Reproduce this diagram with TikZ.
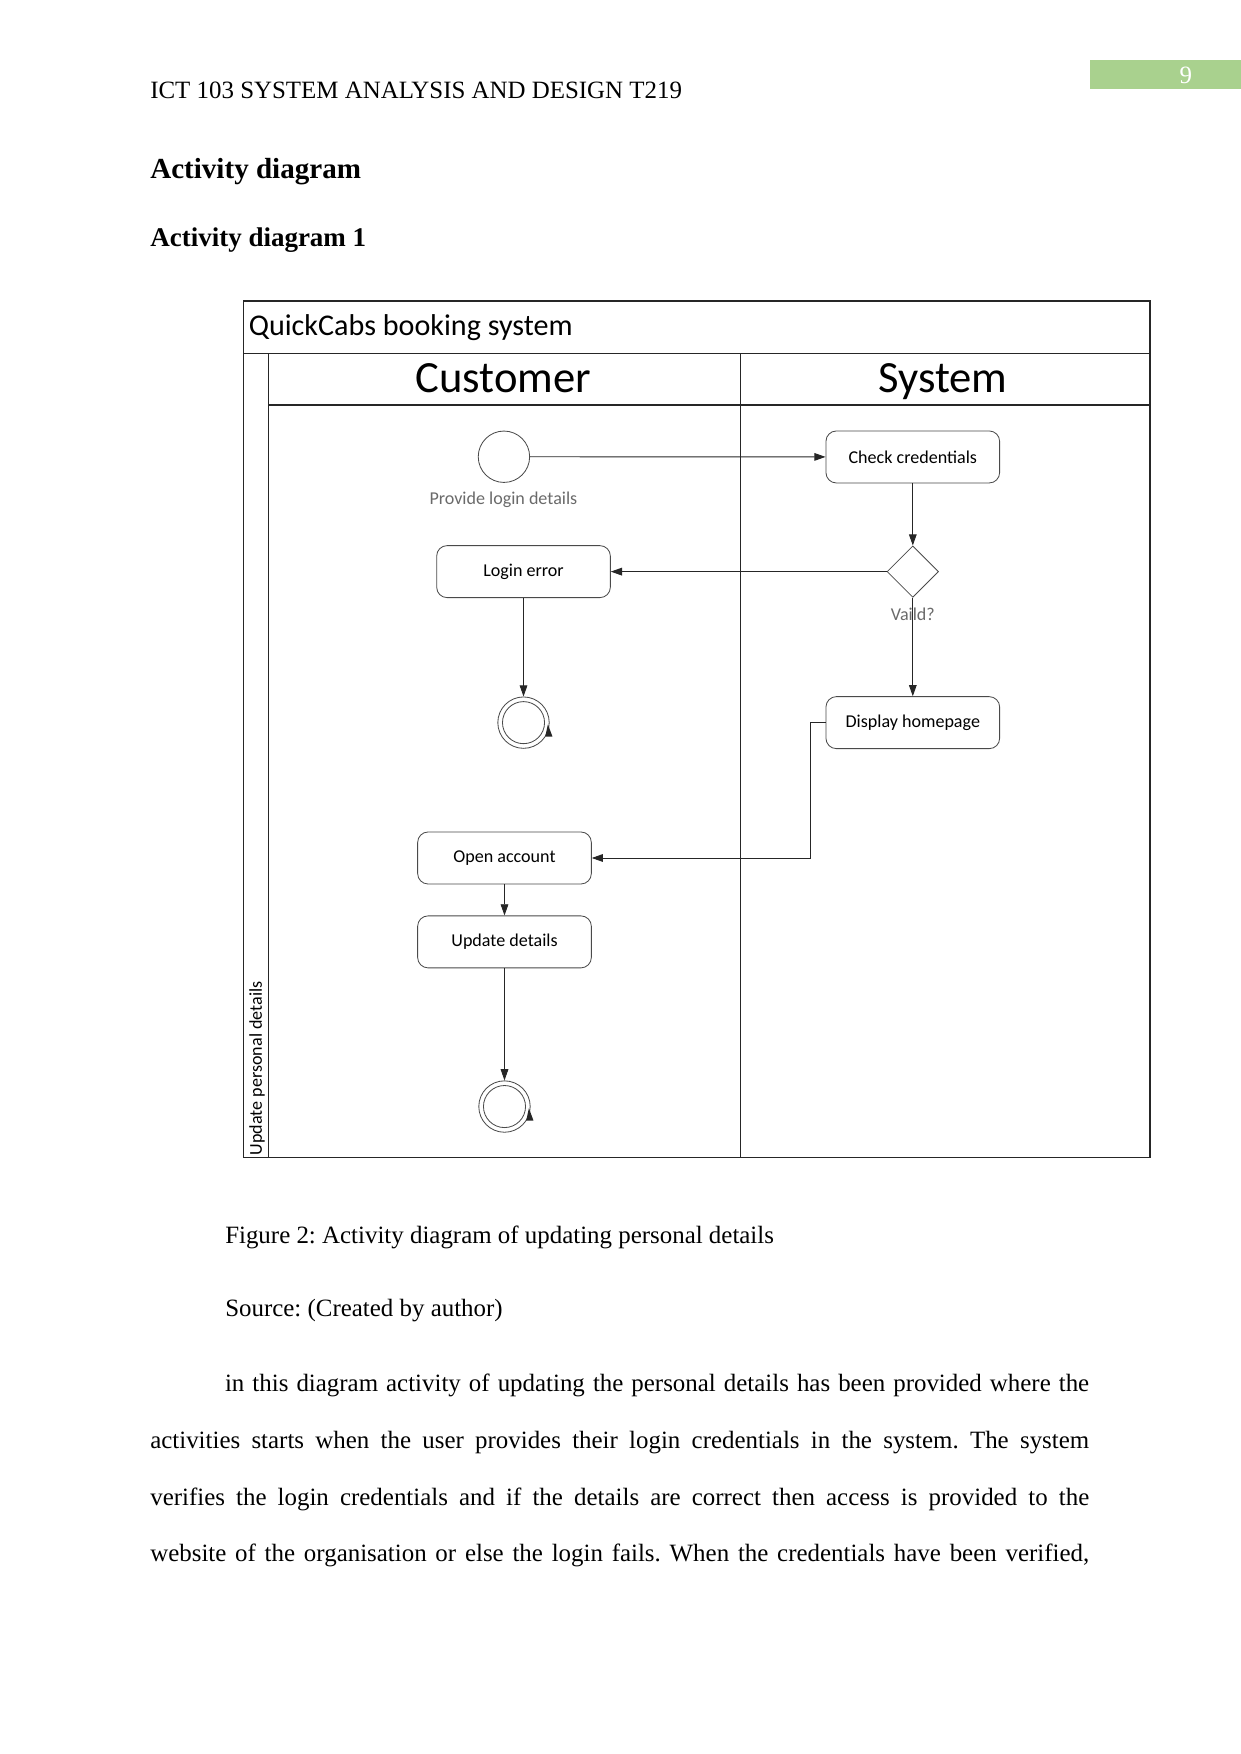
\documentclass[tikz,border=0pt]{standalone}
\usepackage{fontspec}
\setmainfont{Liberation Serif}
\newfontfamily\diafont{Carlito}
\usepackage{tikz}
\usetikzlibrary{arrows.meta,shapes.geometric,calc}
\definecolor{cPage}{HTML}{A9D18E}
\definecolor{cLine}{HTML}{262626}
\definecolor{cBox} {HTML}{4A4A4A}
\definecolor{cNote}{HTML}{6A6A6A}
\frenchspacing
\tikzset{
  actbox/.style  ={draw=cBox,rounded corners=5pt,minimum width=29.4mm,minimum height=8.8mm,
                   align=center,inner sep=2pt,font=\diafont\fontsize{8.7}{10}\selectfont},
  startnode/.style={circle,draw=cBox,minimum size=8.7mm,inner sep=0pt},
  endnode/.style ={startnode,path picture={\draw[cBox] (path picture bounding box.center)
                   circle[radius=3.56mm];}},
  decnode/.style ={diamond,draw=cBox,minimum width=8.7mm,minimum height=8.7mm,inner sep=0pt},
  flowline/.style={-{Triangle[length=1.9mm,width=1.3mm]},draw=cLine,line width=0.45pt},
  lanerule/.style={draw=cLine,line width=0.6pt},
  cmt/.style     ={font=\diafont\fontsize{8.7}{10}\selectfont,text=cNote,inner sep=0pt},
  lanetitle/.style={font=\diafont\fontsize{21.5}{24}\selectfont,inner sep=0pt,anchor=base},
  bodytxt/.style ={font=\fontsize{12}{27.35}\selectfont,inner sep=0pt,anchor=base west},
  headtxt/.style ={font=\bfseries\fontsize{14}{16}\selectfont,inner sep=0pt,anchor=base west},
}

\begin{document}
\begin{tikzpicture}[x=0.18936mm,y=-0.18936mm]
\useasboundingbox (0,0) rectangle (1109,1568);

% ===== page header ========================================================
\fill[cPage] (974,54) rectangle (1109,80);
\node[bodytxt,anchor=base,text=white] (pgno) at (1060,75) {9};
\node[bodytxt] (hdr) at (134,88) {ICT 103 SYSTEM ANALYSIS AND DESIGN T219};
\node[headtxt] (sec)  at (134,159.5) {Activity diagram};
\node[headtxt,font=\bfseries\fontsize{13}{16}\selectfont] (ssec) at (134,220.5)
  {Activity diagram 1};

% ===== swimlane frame =====================================================
\draw[lanerule] (218,269) rectangle (1028,1035);
\draw[lanerule] (218,316) -- (1028,316);
\draw[lanerule] (240,362) -- (1028,362);
\draw[lanerule] (240,316) -- (240,1035);
\draw[lanerule] (662,316) -- (662,1035);
\node[inner sep=0pt,anchor=base west,font=\diafont\fontsize{14.5}{17}\selectfont] (sysname)
  at (222,300) {QuickCabs booking system};
\node[lanetitle] (cust) at (450,351) {Customer};
\node[lanetitle] (syst) at (843,351) {System};
\node[cmt,text=black,rotate=90,anchor=base west] (lanename) at (234,1033)
  {Update personal details};

% ===== activities =========================================================
\node[startnode] (start) at (450.5,408.3) {};
\node[cmt] (startlbl) at (450,446.5) {Provide login details};
\node[actbox] (chk)  at (816,408.5) {Check credentials};
\node[decnode] (valid) at (816,511) {};
\node[actbox] (lerr) at (468,511) {Login error};
\node[endnode] (fa)  at (468,646) {};
\node[actbox] (disp) at (816,646) {Display homepage};
\node[actbox] (oacc) at (451,767) {Open account};
\node[actbox] (upd)  at (451,842) {Update details};
\node[endnode] (fb)  at (451,989.2) {};
\foreach \n in {fa,fb}{
  \fill[cLine] ($(\n.center)+(21.8,1.5)$) -- ($(\n.center)+(19.4,12.5)$)
    -- ($(\n.center)+(25.9,12.5)$) -- cycle;}

% ===== flows ==============================================================
\draw[flowline] (start) -- (chk);
\draw[flowline] (chk) -- (valid);
\draw[flowline] (valid) -- (lerr);
\draw[flowline] (lerr) -- (fa);
\draw[flowline] (valid) -- (disp);
\node[cmt] (validlbl) at (816,549) {Vaild?};
\draw[flowline] (disp.west) -- ++(-13.5,0) |- (oacc.east);
\draw[flowline] (oacc) -- (upd);
\draw[flowline] (upd) -- (fb);

% ===== caption and text ===================================================
\node[bodytxt] (cap) at (201,1111.5)
  {Figure 2: Activity diagram of updating personal details};
\node[bodytxt] (src) at (201,1177) {Source: (Created by author)};
\node[bodytxt,text width=452.2pt,align=justify] (para) at (134,1244)
  {\parfillskip=0pt\hyphenpenalty=10000\hspace*{36pt}in this diagram activity of updating
   the personal details has been provided where the\linebreak
   activities starts when the user provides their login credentials in the system. The
   system\linebreak
   verifies the login credentials and if the details are correct then access is provided
   to the\linebreak
   website of the organisation or else the login fails. When the credentials have been
   verified,\par};
\end{tikzpicture}
\end{document}
